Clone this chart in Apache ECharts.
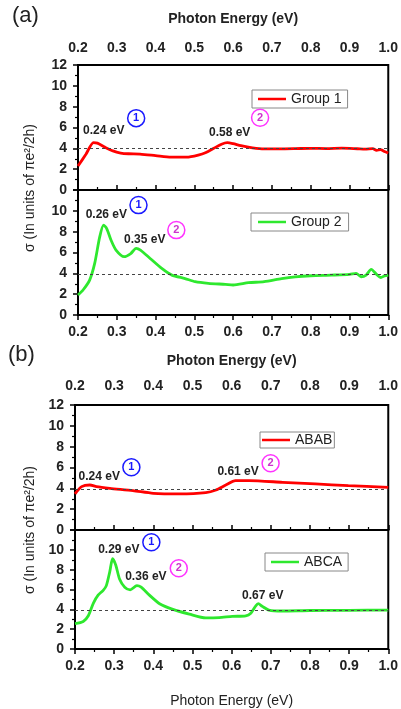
<!DOCTYPE html>
<html><head><meta charset="utf-8">
<script src="https://cdn.jsdelivr.net/npm/echarts@6/dist/echarts.min.js"></script>
<style>html,body{margin:0;padding:0;background:#fff}#c{width:401px;height:709px}</style>
</head><body><div id="c"></div>
<script>
// ---- data ----
const xTicks = [0.2,0.3,0.4,0.5,0.6,0.7,0.8,0.9,1.0];
const yTicks = [0,2,4,6,8,10,12];

const group1E = [0.20,0.22,0.24,0.25,0.27,0.29,0.31,0.33,0.36,0.40,0.44,0.48,0.51,0.53,0.55,0.57,0.585,0.60,0.62,0.65,0.68,0.72,0.76,0.80,0.84,0.88,0.92,0.94,0.96,0.97,0.98,0.99,1.00];
const group1S = [2.3,3.4,4.55,4.5,4.1,3.75,3.55,3.48,3.45,3.3,3.15,3.15,3.35,3.6,4.0,4.4,4.55,4.45,4.25,4.05,3.95,3.95,3.97,4.0,3.98,4.02,3.96,3.92,3.98,3.8,3.88,3.7,3.55];

const group2E = [0.20,0.213,0.23,0.243,0.256,0.266,0.274,0.285,0.298,0.319,0.336,0.35,0.361,0.386,0.416,0.442,0.476,0.502,0.536,0.58,0.60,0.64,0.68,0.725,0.76,0.80,0.853,0.90,0.917,0.93,0.943,0.956,0.969,0.981,0.99,1.0];
const group2S = [1.92,2.4,3.35,4.95,7.5,8.63,8.3,7.2,6.23,5.6,5.9,6.4,6.23,5.43,4.47,3.83,3.5,3.2,3.04,2.94,2.88,3.1,3.2,3.5,3.67,3.77,3.83,3.9,4.0,3.67,3.83,4.38,3.93,3.6,3.75,3.83];

const ababE = [0.20,0.217,0.238,0.255,0.289,0.348,0.40,0.467,0.534,0.56,0.585,0.61,0.644,0.73,0.814,0.898,1.0];
const ababS = [3.46,4.16,4.32,4.16,4.0,3.78,3.52,3.46,3.58,3.84,4.32,4.74,4.74,4.58,4.42,4.26,4.1];

const abcaE = [0.20,0.221,0.234,0.247,0.259,0.272,0.28,0.289,0.296,0.304,0.314,0.327,0.341,0.358,0.369,0.39,0.416,0.45,0.492,0.534,0.568,0.602,0.636,0.649,0.661,0.668,0.678,0.695,0.729,0.80,0.9,1.0];
const abcaS = [2.56,2.78,3.35,4.63,5.43,5.91,6.39,7.83,9.1,8.47,7.03,6.23,5.97,6.39,6.23,5.43,4.57,3.99,3.51,3.13,3.16,3.29,3.35,3.61,4.31,4.57,4.31,3.93,3.83,3.88,3.9,3.93];

const seriesNames = ['Group 1','Group 2','ABAB','ABCA'];
const refLevels = [4, 3.9, 3.95, 3.9];
// annotations: [energy, sigma, text]
const peakLabels = [
  [[0.2665,5.65,'0.24 eV'],[0.591,5.55,'0.58 eV']],
  [[0.273,9.59,'0.26 eV'],[0.372,7.26,'0.35 eV']],
  [[0.262,5.12,'0.24 eV'],[0.6165,5.6,'0.61 eV']],
  [[0.312,9.97,'0.29 eV'],[0.381,7.26,'0.36 eV'],[0.6795,5.34,'0.67 eV']]
];
const circleMarks = [
  [[0.35,6.9,'1'],[0.6695,6.93,'2']],
  [[0.356,10.55,'1'],[0.4535,8.15,'2']],
  [[0.344,6.02,'1'],[0.6995,6.4,'2']],
  [[0.395,10.77,'1'],[0.465,8.15,'2']]
];

// ---- chart ----
const FONT = 'Liberation Sans, Arial, sans-serif';
const pair = (e,s)=>e.map((v,i)=>[v,s[i]]);
const seriesData = [pair(group1E,group1S),pair(group2E,group2S),pair(ababE,ababS),pair(abcaE,abcaS)];
const colors = ['#ff0000','#2ee82e','#ff0000','#2ee82e'];

const grids = [
  {left:78,right:10,top:65,height:125},
  {left:78,right:10,top:190,height:125},
  {left:75,right:11,top:405,height:125},
  {left:75,right:11,top:530,height:125}
].map(g=>Object.assign(g,{show:true,borderColor:'#000',borderWidth:2,backgroundColor:'transparent'}));

const nameGaps = [39,0,37,45];
const labelMargins = [10,10,12,10];
const xAxes = grids.map((g,i)=>{
  const top = (i===0||i===2);
  return {
    type:'value', gridIndex:i, min:0.2, max:1.0, interval:0.1,
    position: top?'top':'bottom',
    name: (i===1) ? '' : 'Photon Energy (eV)',
    nameLocation:'middle',
    nameGap: nameGaps[i],
    nameTextStyle:{fontFamily:FONT,fontSize:14,fontWeight: top?'bold':'normal',color:'#222'},
    axisLine:{show:true,lineStyle:{color:'#000',width:2}},
    axisTick:{show:true,inside:false,length:5,lineStyle:{color:'#000',width:1.5}},
    minorTick:{show:true,splitNumber:2,length:3,lineStyle:{color:'#000',width:1.2}},
    splitLine:{show:false},
    axisLabel:{show:true,margin:labelMargins[i],fontFamily:FONT,fontSize:14,fontWeight:'bold',color:'#222',
      formatter:v=>Number(v).toFixed(1), showMinLabel:true, showMaxLabel:true}
  };
});

const yAxes = grids.map((g,i)=>({
  type:'value', gridIndex:i, min:0, max:12, interval:2,
  axisLine:{show:true,lineStyle:{color:'#000',width:2}},
  axisTick:{show:true,inside:false,length:5,lineStyle:{color:'#000',width:1.5}},
  minorTick:{show:true,splitNumber:2,length:3,lineStyle:{color:'#000',width:1.2}},
  splitLine:{show:false},
  axisLabel:{show:true,margin:11,fontFamily:FONT,fontSize:14,fontWeight:'bold',color:'#222',
    showMaxLabel: (i===0||i===2), formatter:v=>(yTicks.includes(v)?String(v):'')}
}));

const series = seriesData.map((d,i)=>({
  name: seriesNames[i], type:'line', xAxisIndex:i, yAxisIndex:i, data:d,
  symbol:'none', smooth:0.25, z:3,
  lineStyle:{color:colors[i],width:2.8}, itemStyle:{color:colors[i]},
  markLine:{silent:true,symbol:['none','none'],label:{show:false},
    lineStyle:{type:[3,3],color:'#444',width:1},data:[{yAxis:refLevels[i]}]},
  markPoint:{silent:true,data:[
    ...peakLabels[i].map(p=>({coord:[p[0],p[1]],symbol:'circle',symbolSize:1,
      itemStyle:{color:'rgba(0,0,0,0)'},
      label:{show:true,position:'inside',formatter:p[2],fontFamily:FONT,fontSize:12,fontWeight:'bold',color:'#222'}})),
    ...circleMarks[i].map(p=>{
      const c = p[2]==='1' ? '#1a1aff' : '#ff33ff';
      const tc = p[2]==='1' ? '#1a1aff' : '#cc33cc';
      return {coord:[p[0],p[1]],symbol:'circle',symbolSize:17,
        itemStyle:{color:'rgba(255,255,255,0)',borderColor:c,borderWidth:1.5},
        label:{show:true,position:'inside',formatter:p[2],fontFamily:FONT,fontSize:11,fontWeight:'bold',color:tc}};
    })
  ]}
}));

const legendPos = [
  {left:252,top:90,pad:[2,6]},{left:251,top:213,pad:[2,7]},{left:260,top:432,pad:[1,2]},{left:265,top:553,pad:[2,6]}
];
const legends = legendPos.map((p,i)=>({
  data:[seriesNames[i]], left:p.left, top:p.top, orient:'horizontal',
  icon:'rect', itemWidth:28, itemHeight:2.5, itemGap:4,
  padding:p.pad, borderColor:'#888', borderWidth:1, backgroundColor:'#fff',
  textStyle:{fontFamily:FONT,fontSize:14,color:'#222'},
  selectedMode:false
}));

const chart = echarts.init(document.getElementById('c'), null, {renderer:'canvas'});
chart.setOption({
  animation:false,
  backgroundColor:'#fff',
  grid:grids, xAxis:xAxes, yAxis:yAxes, series:series, legend:legends,
  graphic:[
    {type:'text',left:12,top:5,style:{text:'(a)',fontFamily:FONT,fontSize:22,fill:'#222'}},
    {type:'text',left:8,top:344,style:{text:'(b)',fontFamily:FONT,fontSize:22,fill:'#222'}},
    {type:'text',x:30,y:188,rotation:Math.PI/2,style:{text:'σ (In units of πe²/2h)',fontFamily:FONT,fontSize:14,fill:'#222',align:'center',verticalAlign:'middle'}},
    {type:'text',x:30,y:530,rotation:Math.PI/2,style:{text:'σ (In units of πe²/2h)',fontFamily:FONT,fontSize:14,fill:'#222',align:'center',verticalAlign:'middle'}}
  ]
});
</script></body></html>
